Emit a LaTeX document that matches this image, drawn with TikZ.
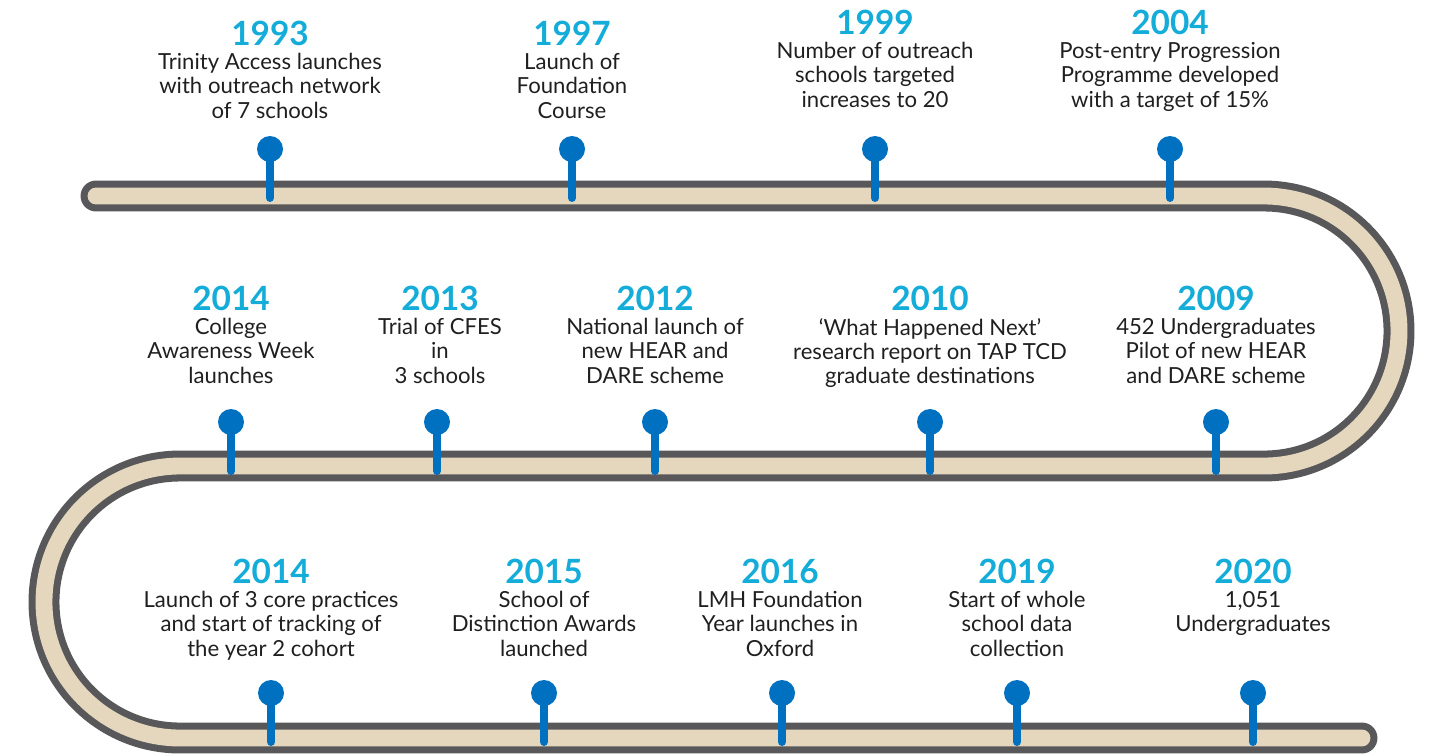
\documentclass[tikz,border=0pt]{standalone}
\usepackage{fontspec}
\setmainfont{Lato}
\usetikzlibrary{positioning}
\definecolor{roadgray}{RGB}{88,88,90}
\definecolor{roadfill}{RGB}{229,215,190}
\definecolor{pinblue}{RGB}{0,112,192}
\definecolor{yearblue}{RGB}{20,172,216}

\begin{document}
\begin{tikzpicture}[x=0.02cm,y=0.02cm,
year/.style={font=\fontsize{19}{20}\selectfont\bfseries,text=yearblue,inner sep=0pt},
desc/.style={font=\fontsize{12.6}{13.9}\selectfont,text=black!88,align=center,inner sep=0pt,below=4pt of #1},
pinstick/.style={draw=pinblue,line width=4.5pt,line cap=round}]

\useasboundingbox (0,0) rectangle (1430,-755);

% road
\draw[line width=17.6pt,roadgray,line cap=round] (96,-196) -- (1264,-196) arc (90:-90:135) -- (180,-466) arc (90:270:136) -- (1362,-738);
\draw[line width=9.6pt,roadfill,line cap=round] (96,-196) -- (1264,-196) arc (90:-90:135) -- (180,-466) arc (90:270:136) -- (1362,-738);

% pins
\foreach \x/\y in {270/-149,572/-149,875/-149,1170/-149,
                   231/-422,437/-422,655/-422,930/-422,1216/-422,
                   271/-693,544/-693,782/-693,1017/-693,1253/-693}{
  \draw[pinstick] (\x,\y) -- ++(0,-49);
  \fill[pinblue] (\x,\y) circle (13);
}

% first row
\node[year] (y1993) at (270,-33) {1993};
\node[desc=y1993] (t1993) {Trinity Access launches\\with outreach network\\of 7 schools};
\node[year] (y1997) at (572,-33) {1997};
\node[desc=y1997] (t1997) {Launch of\\Foundation\\Course};
\node[year] (y1999) at (875,-22) {1999};
\node[desc=y1999] (t1999) {Number of outreach\\schools targeted\\increases to 20};
\node[year] (y2004) at (1170,-22) {2004};
\node[desc=y2004] (t2004) {Post-entry Progression\\Programme developed\\with a target of 15\%};

% second row
\node[year] (y2014a) at (231,-298) {2014};
\node[desc=y2014a] (t2014a) {College\\Awareness Week\\launches};
\node[year] (y2013) at (440,-298) {2013};
\node[desc=y2013] (t2013) {Trial of CFES\\in\\3 schools};
\node[year] (y2012) at (655,-298) {2012};
\node[desc=y2012] (t2012) {National launch of\\new HEAR and\\DARE scheme};
\node[year] (y2010) at (930,-298) {2010};
\node[desc=y2010] (t2010) {‘What Happened Next’\\research report on TAP TCD\\graduate destinations};
\node[year] (y2009) at (1216,-298) {2009};
\node[desc=y2009] (t2009) {452 Undergraduates\\Pilot of new HEAR\\and DARE scheme};

% third row
\node[year] (y2014b) at (271,-571) {2014};
\node[desc=y2014b] (t2014b) {Launch of 3 core practices\\and start of tracking of\\the year 2 cohort};
\node[year] (y2015) at (544,-571) {2015};
\node[desc=y2015] (t2015) {School of\\Distinction Awards\\launched};
\node[year] (y2016) at (780,-571) {2016};
\node[desc=y2016] (t2016) {LMH Foundation\\Year launches in\\Oxford};
\node[year] (y2019) at (1017,-571) {2019};
\node[desc=y2019] (t2019) {Start of whole\\school data\\collection};
\node[year] (y2020) at (1253,-571) {2020};
\node[desc=y2020] (t2020) {1,051\\Undergraduates};

\end{tikzpicture}
\end{document}
